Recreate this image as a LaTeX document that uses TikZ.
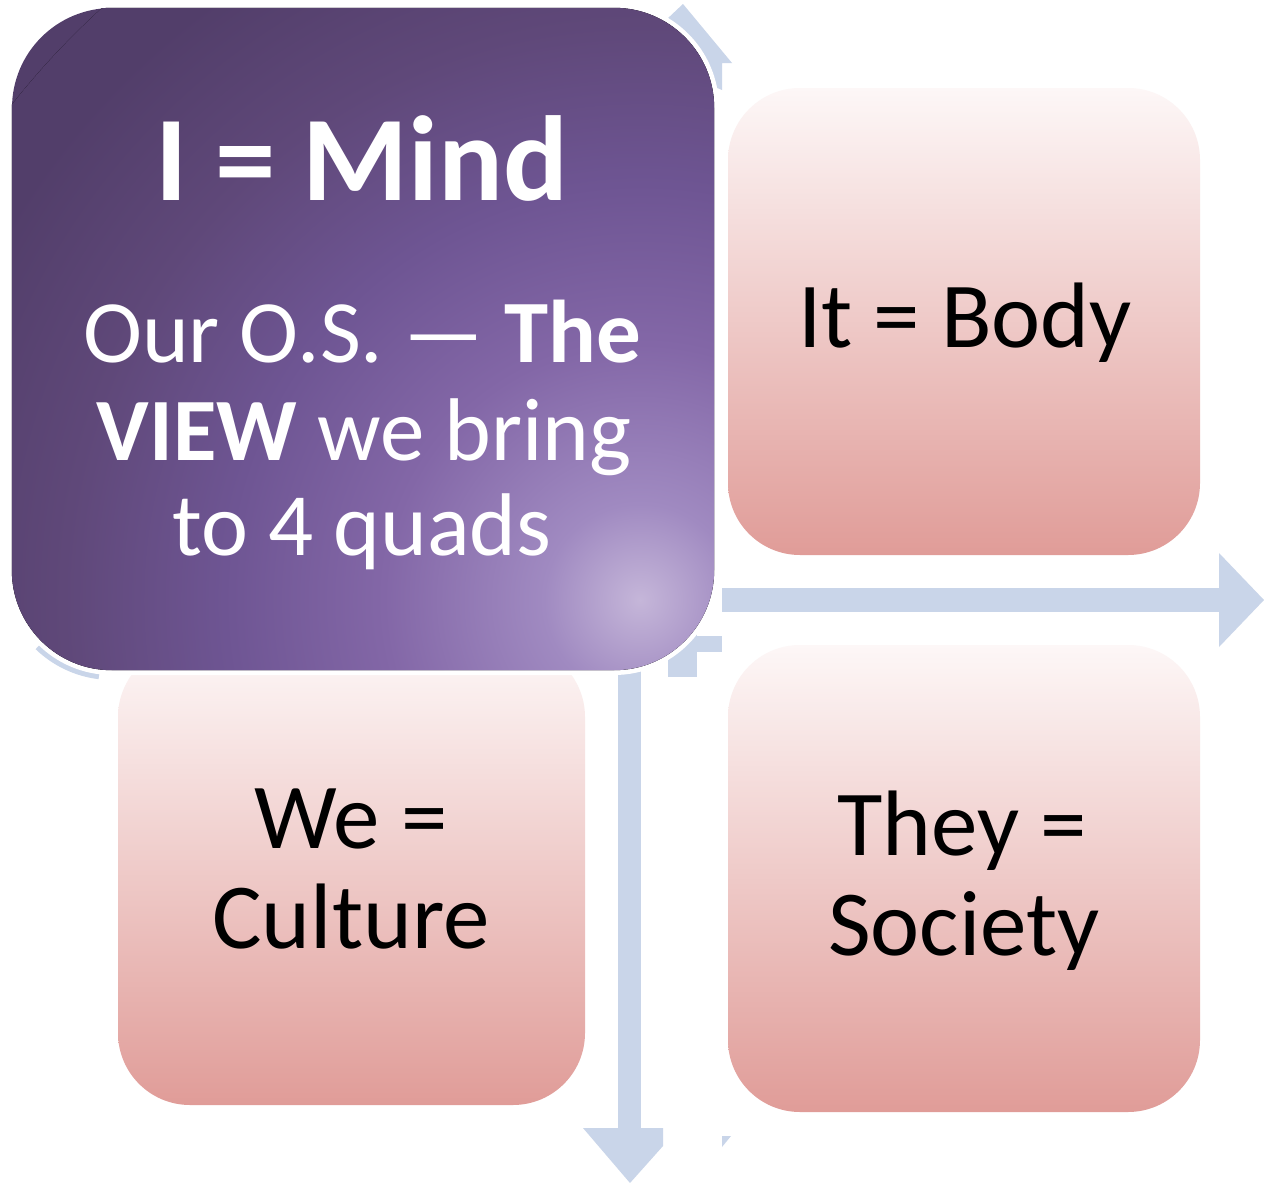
\documentclass[tikz,border=0pt]{standalone}
\usepackage{fontspec}
\setmainfont{Carlito}
\definecolor{arrowblue}{HTML}{C9D5E9}
\definecolor{pinktop}{HTML}{FDF7F7}
\definecolor{pinkmid}{HTML}{F2D5D5}
\definecolor{pinkbot}{HTML}{E09C98}
\definecolor{pglow}{HTML}{C5B6D9}
\definecolor{plight}{HTML}{A08AC1}
\definecolor{pmid}{HTML}{8367A7}
\definecolor{pmidd}{HTML}{6E5593}
\definecolor{pdeep}{HTML}{5F4879}
\definecolor{pdark}{HTML}{523E6A}
% violet glow around a point, fading to deep violet towards the rim
\pgfdeclareradialshading{violetglow}{\pgfpointorigin}{%
  color(0bp)=(pglow); color(3bp)=(plight); color(8bp)=(pmid);
  color(13bp)=(pmidd); color(18bp)=(pdeep); color(23bp)=(pdark);
  color(100bp)=(pdark)}
\begin{document}
\begin{tikzpicture}[x=1pt,y=-1pt,
  arrowpart/.style={fill=arrowblue, draw=none},
  quadbox/.style={rectangle, rounded corners=72pt, inner sep=0pt,
    minimum width=472pt, minimum height=467pt,
    top color=pinktop, middle color=pinkmid, bottom color=pinkbot},
  mindbox/.style={rectangle, rounded corners=100pt, inner sep=0pt,
    minimum width=702pt, minimum height=662pt, fill=pdark,
    preaction={draw=white, line width=10pt}},
  titletxt/.style={anchor=base, inner sep=0pt, text=white,
    font=\fontsize{121}{121}\selectfont\bfseries},
  mindtxt/.style={anchor=base, inner sep=0pt, text=white,
    font=\fontsize{89}{97}\selectfont},
  quadtxt/.style={anchor=base, inner sep=0pt, text=black,
    font=\fontsize{93}{100}\selectfont}]

% canvas
\fill[white] (0,0) rectangle (1264,1183);
\useasboundingbox (0,0) rectangle (1264,1183);

% arrow pieces behind the quadrants
\fill[arrowpart] (722,588) rectangle (1220,612);
\fill[arrowpart] (1219,553) -- (1264,600) -- (1219,647) -- cycle;
\fill[arrowpart] (618,670) rectangle (641,1129);
\fill[arrowpart] (583,1128) -- (663,1128) -- (663,1146) -- (630,1183) -- cycle;
\fill[arrowpart] (666,20) -- (683,4) -- (732,63) -- (722,63) -- (722,90) -- (650,60) -- cycle;
\fill[arrowpart] (668,630) rectangle (697,677);
\fill[arrowpart] (668,636) rectangle (722,652);
\fill[arrowpart] (722,1136) -- (731,1136) -- (722,1147) -- cycle;
\draw[arrowblue, line width=6pt] (112,570) ++(134:107) arc[start angle=134, end angle=97, radius=107];

% the three lower-right quadrants
\node[quadbox] (itbox) at (964,321.5) {};
\node[quadbox, minimum width=467pt, minimum height=460pt] (webox) at (351.5,875) {};
\node[quadbox] (theybox) at (964,878.5) {};

% the enlarged upper-left quadrant, lit from its lower right
\node[mindbox] (mindbox) at (363,339) {};
\begin{scope}
  \clip[rounded corners=100pt] (mindbox.south west) rectangle (mindbox.north east);
  \fill[shading=violetglow] (640,600) circle (800);
\end{scope}

% texts
\node[titletxt] (mindtitle) at (362,200) {I = Mind};
\node[mindtxt] (mindl1) at (362,362) {Our O.S. — \textbf{The}};
\node[mindtxt] (mindl2) at (364,460) {\textbf{VIEW} we bring};
\node[mindtxt] (mindl3) at (362,555) {to 4 quads};

\node[quadtxt] (ittxt) at (965,347) {It = Body};
\node[quadtxt] (wel1) at (351,848) {We =};
\node[quadtxt] (wel2) at (351,948) {Culture};
\node[quadtxt] (theyl1) at (962,855) {They =};
\node[quadtxt] (theyl2) at (964,955) {Society};
\end{tikzpicture}
\end{document}
